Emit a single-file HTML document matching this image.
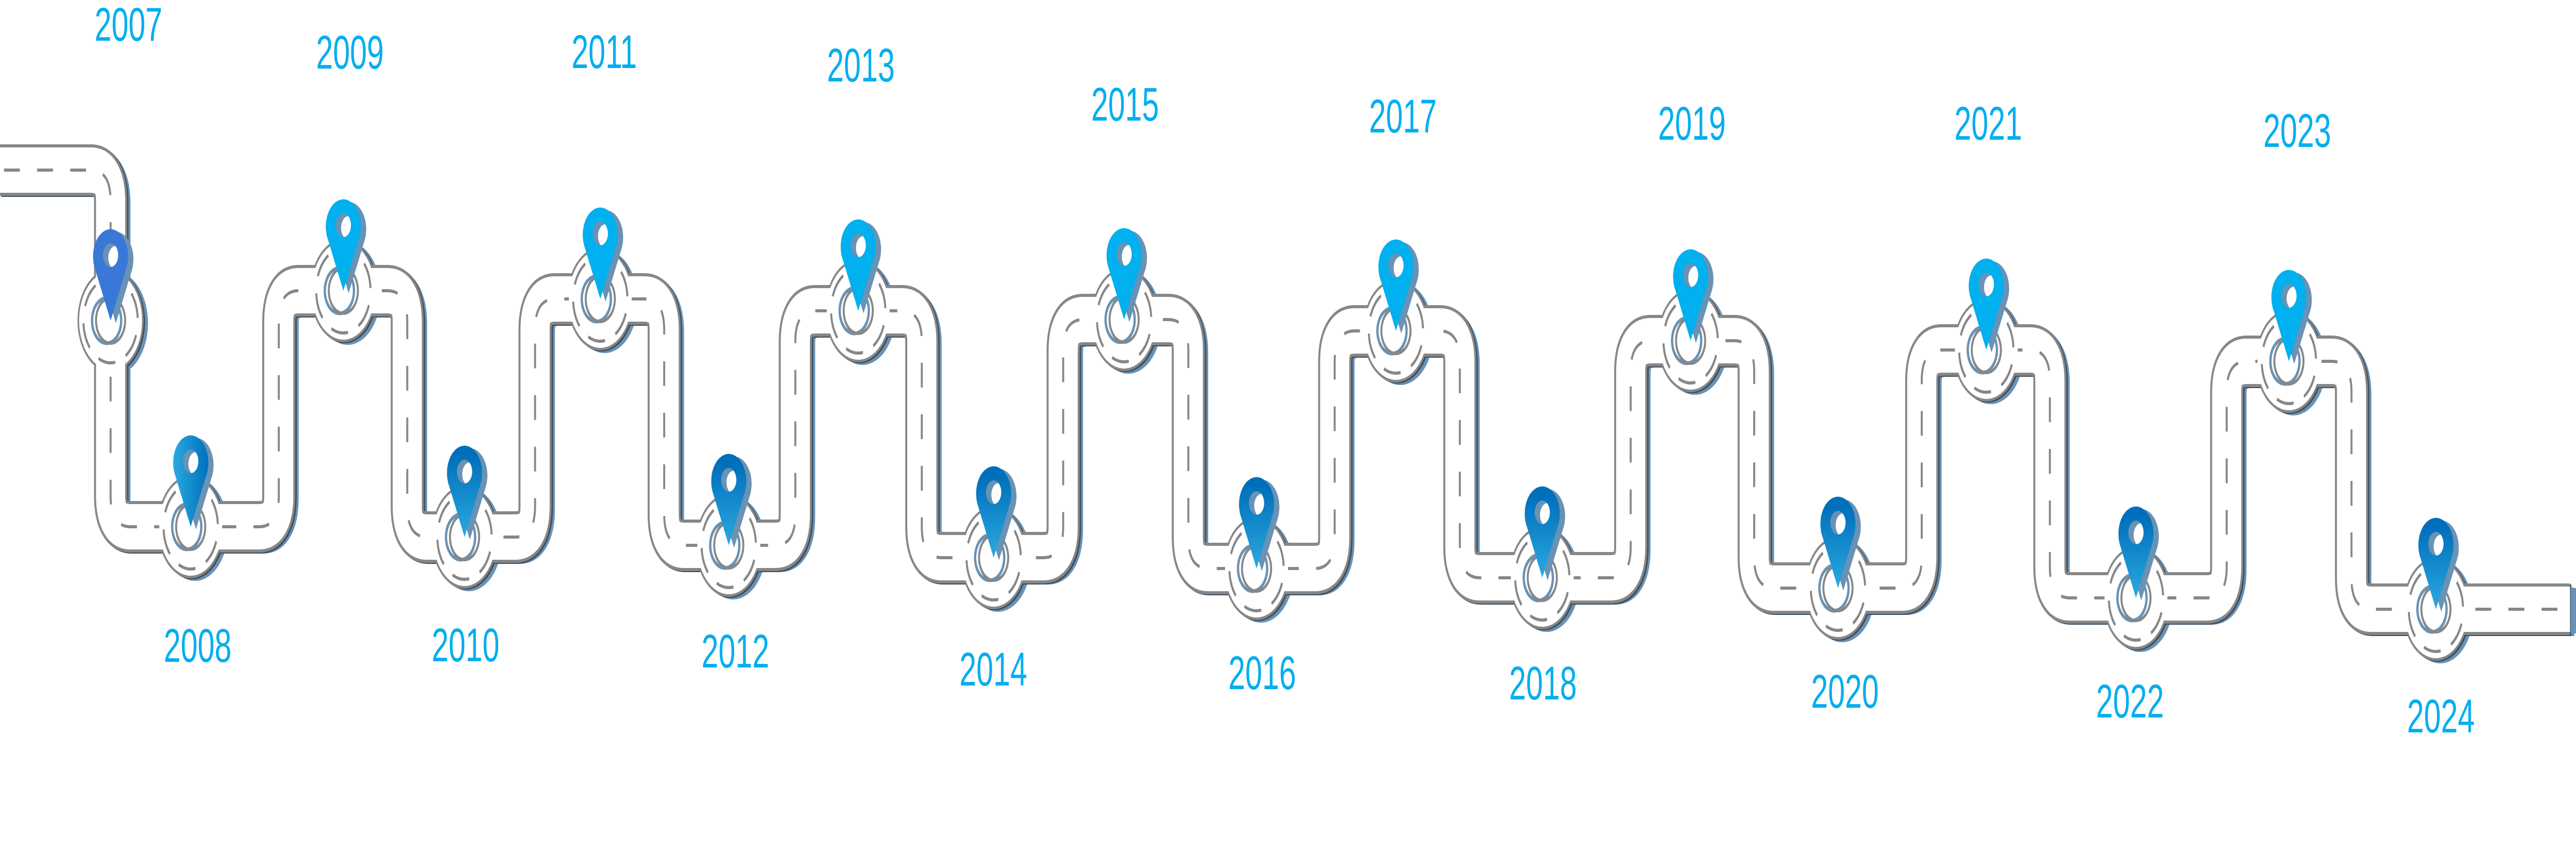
<!DOCTYPE html>
<html><head><meta charset="utf-8">
<style>
html,body{margin:0;padding:0;background:#fff;width:100%;height:100%;overflow:hidden;}
svg{display:block;position:fixed;left:0;top:0;width:100vw;height:100vh;}
text{font-family:"Liberation Sans",sans-serif;font-size:92px;fill:#00aeef;text-anchor:middle;}
</style></head><body>
<svg viewBox="0 0 7780 1653" preserveAspectRatio="none" xmlns="http://www.w3.org/2000/svg">
<defs>
<path id="road" d="M0,330 L274,330 Q334,330 334,390 L334,962 Q334,1022 394,1022 L782,1022 Q842,1022 842,962 L842,624 Q842,564 902,564 L1170,564 Q1230,564 1230,624 L1230,982 Q1230,1042 1290,1042 L1556,1042 Q1616,1042 1616,982 L1616,640 Q1616,580 1676,580 L1946,580 Q2006,580 2006,640 L2006,998 Q2006,1058 2066,1058 L2342,1058 Q2402,1058 2402,998 L2402,663 Q2402,603 2462,603 L2724,603 Q2784,603 2784,663 L2784,1022 Q2784,1082 2844,1082 L3151,1082 Q3211,1082 3211,1022 L3211,680 Q3211,620 3271,620 L3529,620 Q3589,620 3589,680 L3589,1043 Q3589,1103 3649,1103 L3971,1103 Q4031,1103 4031,1043 L4031,702 Q4031,642 4091,642 L4349,642 Q4409,642 4409,702 L4409,1061 Q4409,1121 4469,1121 L4865,1121 Q4925,1121 4925,1061 L4925,721 Q4925,661 4985,661 L5238,661 Q5298,661 5298,721 L5298,1081 Q5298,1141 5358,1141 L5744,1141 Q5804,1141 5804,1081 L5804,739 Q5804,679 5864,679 L6131,679 Q6191,679 6191,739 L6191,1100 Q6191,1160 6251,1160 L6665,1160 Q6725,1160 6725,1100 L6725,761 Q6725,701 6785,701 L7042,701 Q7102,701 7102,761 L7102,1122 Q7102,1182 7162,1182 L7762,1182"/>
<g id="nodes">
<circle cx="334" cy="622" r="100"/><circle cx="576" cy="1022" r="100"/><circle cx="1037" cy="564" r="100"/><circle cx="1403" cy="1042" r="100"/><circle cx="1813" cy="580" r="100"/><circle cx="2201" cy="1058" r="100"/><circle cx="2592" cy="603" r="100"/><circle cx="3001" cy="1082" r="100"/><circle cx="3395" cy="620" r="100"/><circle cx="3795" cy="1103" r="100"/><circle cx="4216" cy="642" r="100"/><circle cx="4658" cy="1121" r="100"/><circle cx="5106" cy="661" r="100"/><circle cx="5551" cy="1141" r="100"/><circle cx="5999" cy="679" r="100"/><circle cx="6451" cy="1160" r="100"/><circle cx="6913" cy="701" r="100"/><circle cx="7357" cy="1182" r="100"/>
</g>
<g id="small">
<circle cx="334" cy="622" r="44"/><circle cx="576" cy="1022" r="44"/><circle cx="1037" cy="564" r="44"/><circle cx="1403" cy="1042" r="44"/><circle cx="1813" cy="580" r="44"/><circle cx="2201" cy="1058" r="44"/><circle cx="2592" cy="603" r="44"/><circle cx="3001" cy="1082" r="44"/><circle cx="3395" cy="620" r="44"/><circle cx="3795" cy="1103" r="44"/><circle cx="4216" cy="642" r="44"/><circle cx="4658" cy="1121" r="44"/><circle cx="5106" cy="661" r="44"/><circle cx="5551" cy="1141" r="44"/><circle cx="5999" cy="679" r="44"/><circle cx="6451" cy="1160" r="44"/><circle cx="6913" cy="701" r="44"/><circle cx="7357" cy="1182" r="44"/>
</g>
<linearGradient id="gv" x1="0" y1="0" x2="0" y2="1"><stop offset="0.1" stop-color="#006fbb"/><stop offset="1" stop-color="#2aa9e0"/></linearGradient>
<linearGradient id="gh" x1="0" y1="0" x2="1" y2="0"><stop offset="0" stop-color="#2aaae1"/><stop offset="1" stop-color="#0070bc"/></linearGradient>
<path id="pin" d="M0,0 L-46,-98 A53,53 0 1 1 46,-98 Z M-23,-127 A23,23 0 1 0 23,-127 A23,23 0 1 0 -23,-127 Z" fill-rule="evenodd"/>
</defs>

<g transform="translate(13,5)" fill="#6a92b4">
<use href="#road" fill="none" stroke="#6a92b4" stroke-width="94"/>
<use href="#nodes"/>
</g>
<g transform="translate(4,2)">
<use href="#road" fill="none" stroke="#3a4f62" stroke-width="100"/>
<use href="#nodes" fill="#3a4f62"/>
</g>
<use href="#road" fill="none" stroke="#878787" stroke-width="100"/>
<use href="#nodes" fill="#878787"/>
<line x1="4" y1="281" x2="4" y2="379" stroke="#878787" stroke-width="6"/>
<use href="#road" fill="none" stroke="#fff" stroke-width="88"/>
<use href="#road" fill="none" stroke="#878787" stroke-width="6" stroke-dasharray="48 52" stroke-dashoffset="-12"/>
<g fill="#fff">
<circle cx="334" cy="622" r="95"/><circle cx="576" cy="1022" r="95"/><circle cx="1037" cy="564" r="95"/><circle cx="1403" cy="1042" r="95"/><circle cx="1813" cy="580" r="95"/><circle cx="2201" cy="1058" r="95"/><circle cx="2592" cy="603" r="95"/><circle cx="3001" cy="1082" r="95"/><circle cx="3395" cy="620" r="95"/><circle cx="3795" cy="1103" r="95"/><circle cx="4216" cy="642" r="95"/><circle cx="4658" cy="1121" r="95"/><circle cx="5106" cy="661" r="95"/><circle cx="5551" cy="1141" r="95"/><circle cx="5999" cy="679" r="95"/><circle cx="6451" cy="1160" r="95"/><circle cx="6913" cy="701" r="95"/><circle cx="7357" cy="1182" r="95"/>
</g>
<rect x="7764" y="1141" width="16" height="88" fill="#6a92b4"/>

<g fill="none" stroke="#878787" stroke-width="6" stroke-dasharray="52 33.87">
<circle cx="334" cy="622" r="82" transform="rotate(20 334 622)"/><circle cx="576" cy="1022" r="82" transform="rotate(20 576 1022)"/><circle cx="1037" cy="564" r="82" transform="rotate(20 1037 564)"/><circle cx="1403" cy="1042" r="82" transform="rotate(20 1403 1042)"/><circle cx="1813" cy="580" r="82" transform="rotate(20 1813 580)"/><circle cx="2201" cy="1058" r="82" transform="rotate(20 2201 1058)"/><circle cx="2592" cy="603" r="82" transform="rotate(20 2592 603)"/><circle cx="3001" cy="1082" r="82" transform="rotate(20 3001 1082)"/><circle cx="3395" cy="620" r="82" transform="rotate(20 3395 620)"/><circle cx="3795" cy="1103" r="82" transform="rotate(20 3795 1103)"/><circle cx="4216" cy="642" r="82" transform="rotate(20 4216 642)"/><circle cx="4658" cy="1121" r="82" transform="rotate(20 4658 1121)"/><circle cx="5106" cy="661" r="82" transform="rotate(20 5106 661)"/><circle cx="5551" cy="1141" r="82" transform="rotate(20 5551 1141)"/><circle cx="5999" cy="679" r="82" transform="rotate(20 5999 679)"/><circle cx="6451" cy="1160" r="82" transform="rotate(20 6451 1160)"/><circle cx="6913" cy="701" r="82" transform="rotate(20 6913 701)"/><circle cx="7357" cy="1182" r="82" transform="rotate(20 7357 1182)"/>
</g>
<use href="#small" fill="none" stroke="#6a92b4" stroke-width="7" transform="translate(-12,0)"/>
<use href="#small" fill="none" stroke="#878787" stroke-width="6"/>

<g fill="#6a92b4">
<use href="#pin" transform="translate(350,627)"/><use href="#pin" transform="translate(592,1027)"/><use href="#pin" transform="translate(1053,569)"/><use href="#pin" transform="translate(1419,1047)"/><use href="#pin" transform="translate(1829,585)"/><use href="#pin" transform="translate(2217,1063)"/><use href="#pin" transform="translate(2608,608)"/><use href="#pin" transform="translate(3017,1087)"/><use href="#pin" transform="translate(3411,625)"/><use href="#pin" transform="translate(3811,1108)"/><use href="#pin" transform="translate(4232,647)"/><use href="#pin" transform="translate(4674,1126)"/><use href="#pin" transform="translate(5122,666)"/><use href="#pin" transform="translate(5567,1146)"/><use href="#pin" transform="translate(6015,684)"/><use href="#pin" transform="translate(6467,1165)"/><use href="#pin" transform="translate(6929,706)"/><use href="#pin" transform="translate(7373,1187)"/>
</g>
<use href="#pin" transform="translate(334,622)" fill="#3a78d8"/>
<use href="#pin" transform="translate(576,1022)" fill="url(#gh)"/>
<g fill="#00b0ef">
<use href="#pin" transform="translate(1037,564)"/><use href="#pin" transform="translate(1813,580)"/><use href="#pin" transform="translate(2592,603)"/><use href="#pin" transform="translate(3395,620)"/><use href="#pin" transform="translate(4216,642)"/><use href="#pin" transform="translate(5106,661)"/><use href="#pin" transform="translate(5999,679)"/><use href="#pin" transform="translate(6913,701)"/>
</g>
<g fill="url(#gv)">
<use href="#pin" transform="translate(1403,1042)"/><use href="#pin" transform="translate(2201,1058)"/><use href="#pin" transform="translate(3001,1082)"/><use href="#pin" transform="translate(3795,1103)"/><use href="#pin" transform="translate(4658,1121)"/><use href="#pin" transform="translate(5551,1141)"/><use href="#pin" transform="translate(6451,1160)"/><use href="#pin" transform="translate(7357,1182)"/>
</g>

<text x="388" y="79">2007</text>
<text x="597" y="1284">2008</text>
<text x="1057" y="133">2009</text>
<text x="1406" y="1283">2010</text>
<text x="1825" y="132">2011</text>
<text x="2221" y="1295">2012</text>
<text x="2600" y="158">2013</text>
<text x="3000" y="1330">2014</text>
<text x="3398" y="234">2015</text>
<text x="3812" y="1337">2016</text>
<text x="4237" y="257">2017</text>
<text x="4660" y="1357">2018</text>
<text x="5110" y="271">2019</text>
<text x="5572" y="1373">2020</text>
<text x="6005" y="271">2021</text>
<text x="6433" y="1392">2022</text>
<text x="6938" y="285">2023</text>
<text x="7372" y="1421">2024</text>
</svg>
</body></html>
